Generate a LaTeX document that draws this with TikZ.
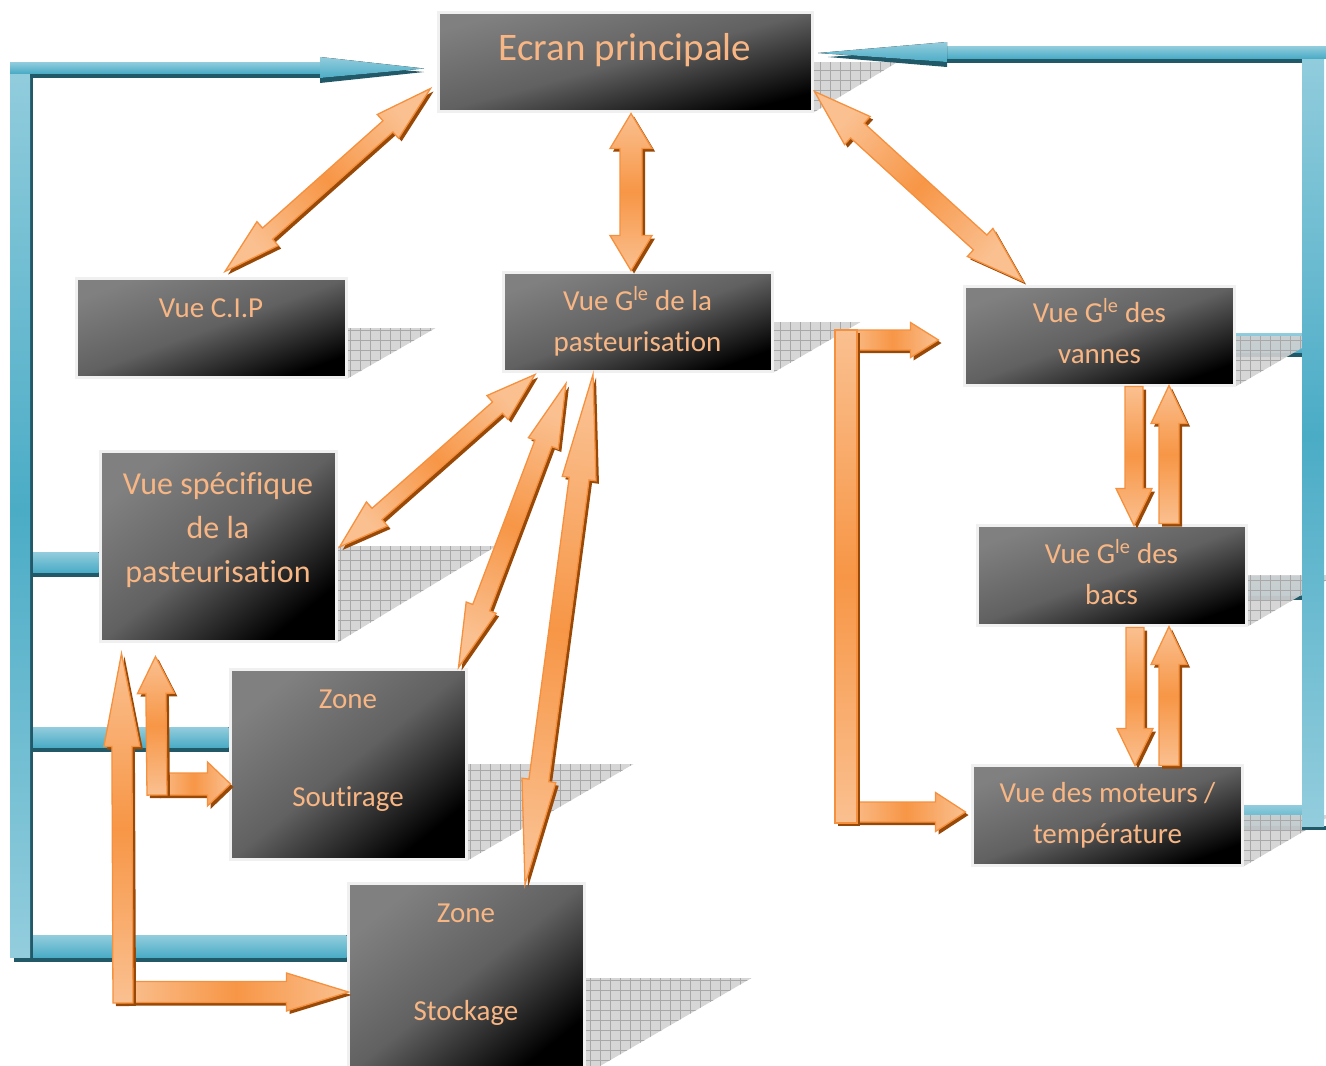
\documentclass[tikz,border=0pt]{standalone}
\usepackage{fontspec}
\setmainfont{Carlito}[Ligatures=NoCommon]
\usetikzlibrary{calc,positioning}

\definecolor{flowmid}{RGB}{247,150,70}
\definecolor{flowlight}{RGB}{250,192,144}
\definecolor{flowedge}{RGB}{245,145,62}
\definecolor{flowdark}{RGB}{152,72,7}
\definecolor{pipemid}{RGB}{75,172,198}
\definecolor{pipelight}{RGB}{147,205,221}
\definecolor{pipedark}{RGB}{33,89,104}
\definecolor{labelorange}{RGB}{247,182,132}
\definecolor{boxlight}{RGB}{128,128,128}

\pgfdeclarelayer{pipes}
\pgfdeclarelayer{floor}
\pgfdeclarelayer{risers}
\pgfsetlayers{pipes,floor,risers,main}

\tikzset{
  screen/.style={draw=black!6, line width=3pt, top color=boxlight, bottom color=black,
    middle color=black!62, shading angle=#1, inner sep=0pt},
  screen/.default=20,
  caption/.style={text=labelorange, font=\fontsize{29}{41}\selectfont, align=center,
    anchor=base, inner sep=0pt},
  flow/.style={draw=flowedge, line width=1.3pt, line join=miter, top color=flowlight,
    bottom color=flowlight, middle color=flowmid},
  flowdrop/.style={fill=flowdark, transform canvas={xshift=3pt,yshift=-3pt}},
  pipe/.style={top color=pipelight, bottom color=pipemid},
  riser/.style={top color=pipelight, bottom color=pipelight, middle color=pipemid},
}

% block arrow with two heads: end, end, shaft half width, head half width, head length
\newcommand\twoway[5]{%
  \path ($(#1)!#5!(#2)$) coordinate (ha) ($(#2)!#5!(#1)$) coordinate (hb);
  \pgfmathanglebetweenpoints{\pgfpointanchor{#1}{center}}{\pgfpointanchor{#2}{center}}%
  \pgfmathsetmacro\flowang{\pgfmathresult+90}%
  \path[flowdrop] (#1) -- ($(ha)!#4!90:(#2)$) -- ($(ha)!#3!90:(#2)$) -- ($(hb)!#3!-90:(#1)$)
    -- ($(hb)!#4!-90:(#1)$) -- (#2) -- ($(hb)!#4!90:(#1)$) -- ($(hb)!#3!90:(#1)$)
    -- ($(ha)!#3!-90:(#2)$) -- ($(ha)!#4!-90:(#2)$) -- cycle;
  \path[flow, shading angle=\flowang] (#1) -- ($(ha)!#4!90:(#2)$) -- ($(ha)!#3!90:(#2)$)
    -- ($(hb)!#3!-90:(#1)$) -- ($(hb)!#4!-90:(#1)$) -- (#2) -- ($(hb)!#4!90:(#1)$)
    -- ($(hb)!#3!90:(#1)$) -- ($(ha)!#3!-90:(#2)$) -- ($(ha)!#4!-90:(#2)$) -- cycle;
}
% block arrow with one head: tail, tip, shaft half width, head half width, head length
\newcommand\oneway[5]{%
  \path ($(#2)!#5!(#1)$) coordinate (hb);
  \pgfmathanglebetweenpoints{\pgfpointanchor{#1}{center}}{\pgfpointanchor{#2}{center}}%
  \pgfmathsetmacro\flowang{\pgfmathresult+90}%
  \path[flowdrop] ($(#1)!#3!90:(#2)$) -- ($(hb)!#3!-90:(#1)$) -- ($(hb)!#4!-90:(#1)$) -- (#2)
    -- ($(hb)!#4!90:(#1)$) -- ($(hb)!#3!90:(#1)$) -- ($(#1)!#3!-90:(#2)$) -- cycle;
  \path[flow, shading angle=\flowang] ($(#1)!#3!90:(#2)$) -- ($(hb)!#3!-90:(#1)$)
    -- ($(hb)!#4!-90:(#1)$) -- (#2) -- ($(hb)!#4!90:(#1)$) -- ($(hb)!#3!90:(#1)$)
    -- ($(#1)!#3!-90:(#2)$) -- cycle;
}
% chequered floor shadow on the right of a box
\newcommand\floorshadow[2]{%
  \begin{scope}
    \clip (#1.east) -- ($(#1.east)+(#2,0)$) -- (#1.south east) -- cycle;
    \fill[black!18, fill opacity=0.9] (#1.east) rectangle ($(#1.south east)+(#2,0)$);
    \draw[black!34, line width=0.8pt, step=10pt] (#1.south east) grid ($(#1.east)+(#2,0)$);
  \end{scope}}
% horizontal pipe: top left, top right, thickness
\newcommand\hpipe[3]{%
  \fill[pipedark] ($(#1)+(0,#3)$) rectangle ($(#2)+(0,#3+5)$);
  \fill[pipe] (#1) rectangle ($(#2)+(0,#3)$);}

\begin{document}
\begin{tikzpicture}[x=1pt,y=-1pt]
  \useasboundingbox (0,0) rectangle (1326,1066);

  % screens
  \node[screen=15, minimum width=374, minimum height=99] (ecran) at (625,61.5) {};
  \node[screen, minimum width=270, minimum height=99] (cip) at (211,327.5) {};
  \node[screen, minimum width=269, minimum height=99] (past) at (637.5,321.5) {};
  \node[screen, minimum width=270, minimum height=99] (vannes) at (1099,335.5) {};
  \node[screen=39, minimum width=236, minimum height=190] (specif) at (218,546) {};
  \node[screen=39, minimum width=236, minimum height=190] (soutir) at (348,764) {};
  \node[screen=39, minimum width=236, minimum height=190] (stock) at (466,978) {};
  \node[screen, minimum width=269, minimum height=100] (bacs) at (1111.5,575) {};
  \node[screen, minimum width=270, minimum height=100] (moteurs) at (1107,815) {};

  % captions sit on the baseline of their last line
  \node[caption, font=\fontsize{39}{47}\selectfont] (ecran-t) at (625,60) {Ecran principale};
  \node[caption] (cip-t) at (211,317) {Vue C.I.P};
  \node[caption] (past-t) at (637.5,351) {Vue G\textsuperscript{le} de la\\pasteurisation};
  \node[caption] (vannes-t) at (1099.5,363) {Vue G\textsuperscript{le} des\\vannes};
  \node[caption, font=\fontsize{32}{44}\selectfont] (specif-t) at (218,582)
    {Vue spécifique\\de la\\pasteurisation};
  \node[caption] (soutir-t) at (348,806) {Zone\\[57pt]Soutirage};
  \node[caption] (stock-t) at (466,1020) {Zone\\[57pt]Stockage};
  \node[caption] (bacs-t) at (1111.5,604) {Vue G\textsuperscript{le} des\\bacs};
  \node[caption] (moteurs-t) at (1107.5,843) {Vue des moteurs /\\température};

  \begin{pgfonlayer}{floor}
    \floorshadow{ecran}{85}
    \floorshadow{cip}{89}
    \floorshadow{past}{88}
    \floorshadow{vannes}{88}
    \floorshadow{specif}{159}
    \floorshadow{soutir}{166}
    \floorshadow{stock}{166}
    \floorshadow{bacs}{88}
    \floorshadow{moteurs}{88}
  \end{pgfonlayer}

  % blue bus branches
  \begin{pgfonlayer}{pipes}
    \hpipe{30,552}{specif.west |- 0,552}{20}
    \hpipe{30,727}{soutir.west |- 0,727}{20}
    \hpipe{30,935}{stock.west |- 0,935}{22}
    \hpipe{vannes.east |- 0,333}{1302,333}{19}
    \hpipe{bacs.east |- 0,576}{1302,576}{19}
    \hpipe{moteurs.east |- 0,805}{1302,805}{20}
  \end{pgfonlayer}
  \begin{pgfonlayer}{risers}
    % left riser and its arrow
    \fill[pipedark] (30,62) rectangle (33,962);
    \fill[pipedark] (14,957) rectangle (33,962);
    \fill[riser] (10,62) rectangle (30,957);
    \fill[pipedark] (30,73) rectangle (320,78);
    \fill[pipedark] (320,62) -- (424,72) -- (320,83) -- cycle;
    \fill[pipe] (10,62) rectangle (320,73);
    \fill[pipe] (320,57) -- (424,68.5) -- (320,78) -- cycle;
    % right riser and its arrow
    \fill[pipedark] (1302,826) rectangle (1326,830);
    \fill[riser] (1302,46) rectangle (1324,826);
    \fill[pipedark] (947,58) rectangle (1302,63);
    \fill[pipedark] (947,48) -- (828,57) -- (947,67) -- cycle;
    \fill[pipe] (947,46) rectangle (1326,58);
    \fill[pipe] (947,42) -- (818,53) -- (947,62) -- cycle;
  \end{pgfonlayer}

  % orange links
  \coordinate (ec1) at ($(ecran.west)+(-6,27)$);
  \coordinate (ci1) at ($(cip.north)+(14,-5)$);
  \twoway{ec1}{ci1}{7.5pt}{16pt}{57pt}
  \coordinate (ec2) at ($(ecran.south)+(6,1)$);
  \coordinate (pa1) at ($(past.north)+(-6.5,0)$);
  \twoway{ec2}{pa1}{11pt}{21pt}{35pt}
  \coordinate (ec3) at ($(ecran.south east)+(1,-21)$);
  \coordinate (va1) at ($(vannes.north)+(-76,-3)$);
  \twoway{ec3}{va1}{10pt}{19pt}{58pt}

  \coordinate (pa2) at ($(past.south)+(-102.5,2)$);
  \coordinate (sp1) at ($(specif.east)+(2,1)$);
  \twoway{pa2}{sp1}{7.5pt}{16pt}{50pt}
  \coordinate (pa3) at ($(past.south)+(-71.5,11)$);
  \coordinate (so1) at ($(soutir.north east)+(-9,0)$);
  \twoway{pa3}{so1}{9pt}{16pt}{64pt}
  \coordinate (pa4) at ($(past.south)+(-44.5,2)$);
  \coordinate (st1) at ($(stock.north)+(59,3)$);
  \twoway{pa4}{st1}{10pt}{17pt}{105pt}

  \coordinate (va2) at ($(vannes.south)+(35,0)$);
  \coordinate (ba1) at ($(bacs.north)+(22.5,2)$);
  \oneway{va2}{ba1}{9pt}{18pt}{37pt}
  \coordinate (ba2) at ($(bacs.north)+(57.5,0)$);
  \coordinate (va3) at ($(vannes.south)+(70,-1)$);
  \oneway{ba2}{va3}{10pt}{18pt}{38pt}
  \coordinate (ba3) at ($(bacs.south)+(23.5,1)$);
  \coordinate (mo1) at ($(moteurs.north)+(28,2)$);
  \oneway{ba3}{mo1}{9pt}{18pt}{37pt}
  \coordinate (mo2) at ($(moteurs.north)+(62,2)$);
  \coordinate (ba4) at ($(bacs.south)+(57.5,0)$);
  \oneway{mo2}{ba4}{10pt}{18pt}{38pt}

  % bracket feeding vannes and moteurs
  \coordinate (brtop) at (846,340);
  \coordinate (brbot) at (846,812);
  \coordinate (va4) at ($(vannes.west)+(-24,4.5)$);
  \coordinate (mo3) at ($(moteurs.west)+(-5,-3)$);
  \oneway{brtop}{va4}{10pt}{17.5pt}{28pt}
  \oneway{brbot}{mo3}{10pt}{19.5pt}{30pt}
  \path[flowdrop] (835,330) rectangle (857,823);
  \path[flow] (835,330) rectangle (857,823);

  % L-shaped links on the left
  \coordinate (lbig) at (123,992);
  \coordinate (lbigv) at (123,1003);
  \coordinate (st2) at ($(stock.west)+(2,14)$);
  \coordinate (sp2) at ($(specif.south west)+(23,11)$);
  \oneway{lbig}{st2}{10.5pt}{19pt}{62pt}
  \oneway{lbigv}{sp2}{10pt}{18pt}{93pt}
  \coordinate (lsmall) at (157,784);
  \coordinate (lsmallv) at (157,795);
  \coordinate (so2) at ($(soutir.west)+(2,20)$);
  \coordinate (sp3) at ($(specif.south west)+(57,14)$);
  \oneway{lsmall}{so2}{11pt}{22pt}{23pt}
  \oneway{lsmallv}{sp3}{10pt}{18.5pt}{37pt}
\end{tikzpicture}
\end{document}
